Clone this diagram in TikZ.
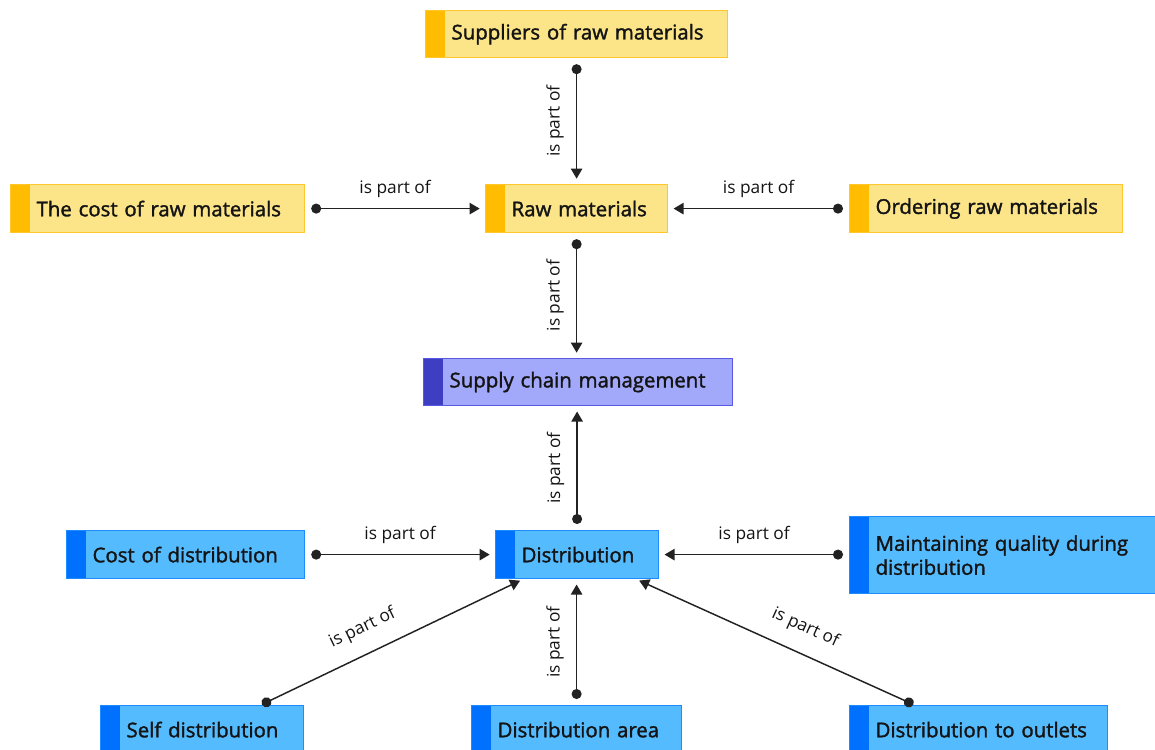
\documentclass[tikz,border=0pt]{standalone}
\usepackage{fontspec}
\setmainfont{Open Sans}
\newfontfamily\boxfont{Open Sans}[FakeBold=1.6]
\usetikzlibrary{arrows.meta,calc}

\definecolor{yelfill}{HTML}{FCE588}
\definecolor{yelbar}{HTML}{FFBC00}
\definecolor{yelbord}{HTML}{FFC72C}
\definecolor{purfill}{HTML}{A3A9FA}
\definecolor{purbar}{HTML}{3E3EC2}
\definecolor{purbord}{HTML}{5858E4}
\definecolor{blufill}{HTML}{55BBFF}
\definecolor{blubar}{HTML}{0070FF}
\definecolor{blubord}{HTML}{1E8CFF}
\definecolor{ink}{HTML}{141414}
\definecolor{wire}{HTML}{222222}

% indent that keeps the text clear of the coloured bar
\newcommand\ind{\hspace*{19.5pt}}
% \conc{name}{left}{top}{width}{height}{style}{text}  (units: px)
\newcommand\conc[7]{\node[#6, anchor=north west, text width={#4*0.75pt},
  minimum height={#5*0.75pt}] (#1) at (#2,#3) {\ind#7};}

\tikzset{
  cbox/.style n args={3}{draw=#1, fill=#2, line width=0.9pt, inner xsep=0pt,
    align=left, text=ink, font=\boxfont\fontsize{15.3}{18}\selectfont,
    path picture={\fill[#3] (path picture bounding box.north west) rectangle
      ([xshift=14.25pt]path picture bounding box.south west);}},
  ybox/.style={cbox={yelbord}{yelfill}{yelbar}},
  pbox/.style={cbox={purbord}{purfill}{purbar}},
  bbox/.style={cbox={blubord}{blufill}{blubar}},
  conn/.style={draw=wire, line width=1.1pt,
    {Circle[length=7.5pt]}-{Triangle[length=7.5pt,width=8.5pt]},
    shorten <=4.5pt, shorten >=4pt},
  lbl/.style={font=\fontsize{13}{15}\selectfont, text=ink, inner sep=4pt},
  lblh/.style={lbl, midway, above=4pt},
  lblv/.style={lbl, midway, rotate=90, anchor=south, inner ysep=9pt},
  lbld/.style={lbl, pos=0.43, sloped, above=8pt}
}

\begin{document}
\begin{tikzpicture}[x=0.75pt,y=-0.75pt]
\useasboundingbox (0,0) rectangle (1155,749);

% concepts
\conc{sup}{425}{10}{302}{47}{ybox}{Suppliers of raw materials}
\conc{raw}{485}{184}{182}{48}{ybox}{Raw materials}
\conc{costraw}{10}{184}{294}{48}{ybox}{The cost of raw materials}
\conc{order}{849}{184}{273}{48}{ybox}{Ordering raw materials}
\conc{scm}{423}{358}{309}{47}{pbox}{Supply chain management}
\conc{dist}{495}{530}{163}{48}{bbox}{Distribution}
\conc{costdist}{66}{530}{238}{48}{bbox}{Cost of distribution}
\conc{maint}{849}{516}{312}{77}{bbox}{Maintaining quality during\\\ind distribution}
\conc{self}{100}{705}{203}{48}{bbox}{Self distribution}
\conc{area}{471}{705}{210}{48}{bbox}{Distribution area}
\conc{outlet}{849}{705}{258}{48}{bbox}{Distribution to outlets}

% "is part of" links
\draw[conn] (sup.south) -- (sup.south |- raw.north) node[lblv] {is part of};
\draw[conn] (costraw.east) -- (raw.west) node[lblh] {is part of};
\draw[conn] (order.west) -- (raw.east) node[lblh] {is part of};
\draw[conn] (raw.south) -- (raw.south |- scm.north) node[lblv] {is part of};
\draw[conn] (dist.north) -- (dist.north |- scm.south) node[lblv] {is part of};
\draw[conn] (costdist.east) -- (dist.west) node[lblh] {is part of};
\draw[conn] (maint.west |- dist.west) -- (dist.east) node[lblh] {is part of};
\draw[conn] (area.north) -- (area.north |- dist.south) node[lblv] {is part of};
\draw[conn, shorten <=1pt, shorten >=2.5pt]
  ([xshift=44pt]self.north) -- ([xshift=-40.5pt]dist.south) node[lbld] {is part of};
\draw[conn, shorten <=1pt, shorten >=2.5pt]
  ([xshift=-48pt]outlet.north) -- ([xshift=44.25pt]dist.south) node[lbld] {is part of};
\end{tikzpicture}
\end{document}
